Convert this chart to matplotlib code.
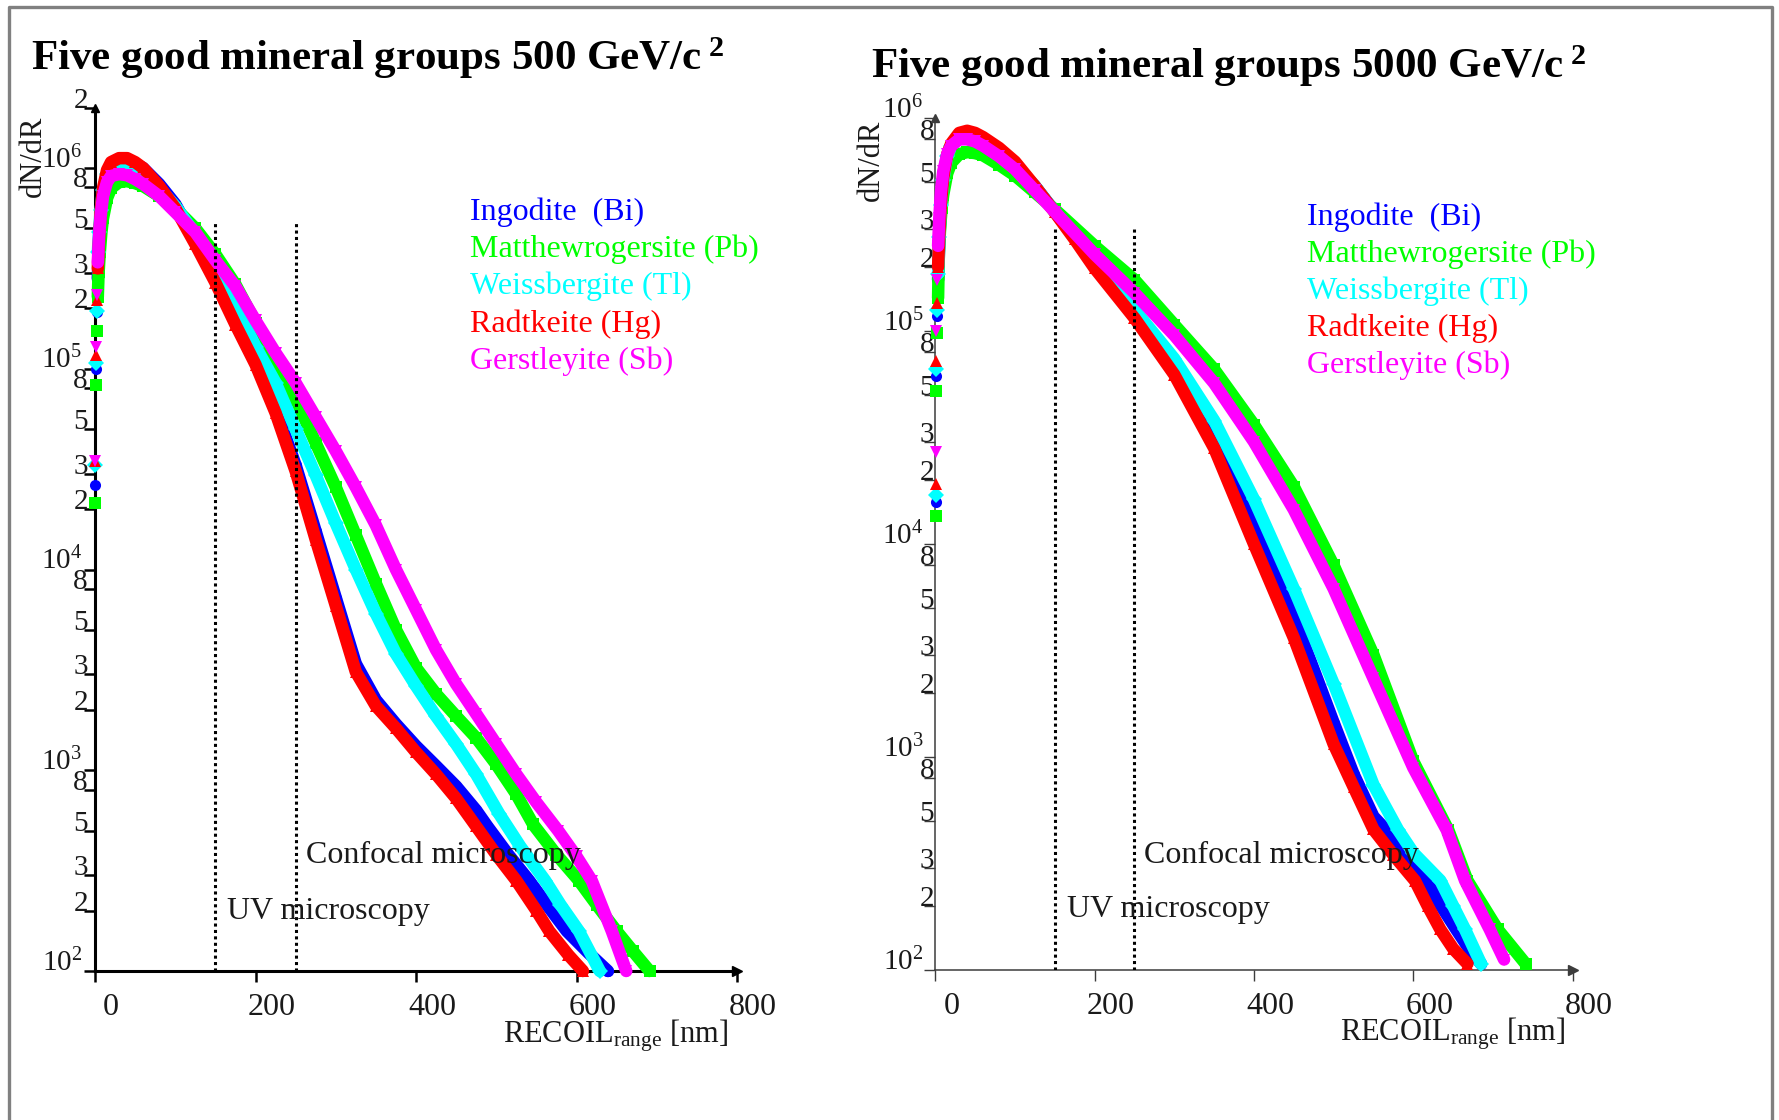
import matplotlib
matplotlib.use("Agg")
import matplotlib.pyplot as plt
from matplotlib.lines import Line2D
from matplotlib.ticker import NullLocator
from matplotlib.transforms import blended_transform_factory, ScaledTranslation

plt.rcParams['font.family'] = ['Liberation Serif', 'DejaVu Serif']
plt.rcParams['mathtext.fontset'] = 'custom'
plt.rcParams['mathtext.rm'] = 'Liberation Serif'
plt.rcParams['mathtext.it'] = 'Liberation Serif:italic'
plt.rcParams['mathtext.bf'] = 'Liberation Serif:bold'

# ---------------------------------------------------------------- data
MINERALS = ["Ingodite  (Bi)", "Matthewrogersite (Pb)", "Weissbergite (Tl)",
            "Radtkeite (Hg)", "Gerstleyite (Sb)"]
COLORS = ["#0000ff", "#00ff00", "#00ffff", "#ff0000", "#ff00ff"]
MARKERS = ["o", "s", "D", "^", "v"]
WIMP_MASSES = ["500", "5000"]
DETECTION_LIMITS = [150, 250]          # nm: UV / confocal microscopy
X_TICKS = [0, 200, 400, 600, 800]

# WIMP mass 500 GeV/c^2 : recoil range [nm] and dN/dR
R500_BI = [0.5, 1.5, 2.5, 3.5, 5, 7, 10, 15, 20, 30, 40, 50, 60, 80, 100, 125, 150, 175, 200,
           225, 250, 275, 300, 325, 350, 375, 400, 425, 450, 475, 489, 515, 541, 565, 588, 615, 639]
N500_BI = [2.63e4, 1.0e5, 1.91e5, 2.82e5, 4.17e5, 5.75e5, 7.59e5, 9.33e5, 1.05e6, 1.10e6, 1.10e6,
           1.05e6, 1.0e6, 8.32e5, 6.61e5, 4.37e5, 2.75e5, 1.74e5, 1.10e5, 6.31e4, 3.31e4, 1.55e4,
           7.24e3, 3.39e3, 2.24e3, 1.70e3, 1.32e3, 1.05e3, 832, 631, 525, 380, 282, 209, 158, 123, 100]

R500_PB = [0.5, 1.5, 2.5, 3.5, 4.5, 6, 8, 10, 15, 20, 30, 40, 50, 60, 80, 100, 125, 150, 175, 200,
           225, 250, 275, 300, 325, 350, 375, 400, 425, 450, 475, 500, 525, 546, 575, 603, 625, 650,
           670, 691]
N500_PB = [2.14e4, 8.32e4, 1.55e5, 2.29e5, 3.02e5, 3.80e5, 4.79e5, 5.62e5, 7.08e5, 7.94e5, 8.51e5,
           8.6e5, 8.4e5, 8.13e5, 7.24e5, 6.31e5, 5.01e5, 3.72e5, 2.63e5, 1.70e5, 1.10e5, 7.08e4,
           4.27e4, 2.57e4, 1.48e4, 8.51e3, 5.01e3, 3.24e3, 2.40e3, 1.86e3, 1.45e3, 1.07e3, 759, 537,
           380, 282, 214, 158, 126, 100]

R500_TL = [0.5, 1.5, 2.5, 3.5, 5, 7, 10, 15, 20, 30, 40, 50, 60, 80, 100, 125, 150, 175, 200,
           225, 250, 275, 300, 325, 350, 375, 400, 425, 450, 475, 504, 530, 561, 580, 603, 629]
N500_TL = [3.31e4, 1.07e5, 1.95e5, 3.80e5, 4.79e5, 6.17e5, 7.76e5, 9.33e5, 1.0e6, 1.05e6, 1.05e6,
           1.0e6, 9.33e5, 7.94e5, 6.46e5, 4.68e5, 3.09e5, 2.09e5, 1.29e5, 8.51e4, 5.01e4, 2.95e4,
           1.70e4, 1.0e4, 6.03e3, 3.80e3, 2.63e3, 1.86e3, 1.35e3, 955, 603, 417, 282, 214, 158, 100]

R500_HG = [0.5, 1.5, 2.5, 3.5, 5, 7, 10, 15, 20, 30, 40, 50, 60, 80, 100, 125, 150, 175, 200,
           225, 250, 275, 300, 325, 350, 375, 400, 425, 450, 475, 500, 525, 550, 566, 590, 608]
N500_HG = [3.47e4, 1.17e5, 2.19e5, 3.16e5, 4.37e5, 6.03e5, 7.94e5, 9.77e5, 1.07e6, 1.12e6, 1.12e6,
           1.07e6, 1.0e6, 8.13e5, 6.31e5, 4.17e5, 2.69e5, 1.66e5, 1.05e5, 6.03e4, 3.09e4, 1.41e4,
           6.61e3, 3.09e3, 2.09e3, 1.62e3, 1.23e3, 955, 724, 525, 380, 282, 200, 158, 120, 100]

R500_SB = [0.5, 1.5, 2.5, 3.5, 5, 7, 10, 15, 20, 30, 40, 50, 60, 80, 100, 125, 150, 175, 200,
           225, 250, 275, 300, 325, 350, 375, 400, 425, 450, 475, 500, 525, 550, 577, 600, 619, 644, 662]
N500_SB = [3.47e4, 1.29e5, 2.34e5, 3.39e5, 4.57e5, 5.75e5, 7.24e5, 8.51e5, 9.12e5, 9.33e5, 9.2e5,
           8.8e5, 8.32e5, 7.24e5, 6.03e5, 4.79e5, 3.47e5, 2.57e5, 1.74e5, 1.20e5, 8.51e4, 5.75e4,
           3.89e4, 2.57e4, 1.66e4, 1.0e4, 6.31e3, 3.98e3, 2.69e3, 1.91e3, 1.35e3, 955, 692, 501,
           372, 282, 158, 100]

# WIMP mass 5000 GeV/c^2
R5000_BI = [0.5, 1.5, 2.5, 3.5, 5, 7, 10, 15, 20, 30, 40, 50, 60, 80, 100, 125, 150, 175, 200,
            250, 300, 350, 400, 450, 500, 525, 550, 566, 585, 600, 617, 635, 654, 670, 685]
N5000_BI = [1.58e4, 6.17e4, 1.17e5, 1.74e5, 2.63e5, 3.80e5, 5.01e5, 6.46e5, 7.41e5, 8.13e5, 8.32e5,
            8.13e5, 7.76e5, 6.92e5, 6.03e5, 4.79e5, 3.63e5, 2.75e5, 2.04e5, 1.17e5, 6.61e4, 3.16e4,
            1.29e4, 4.57e3, 1.45e3, 832, 525, 454, 355, 302, 263, 200, 155, 126, 107]

R5000_PB = [0.5, 1.5, 2.5, 3.5, 4.5, 6, 8, 10, 15, 20, 30, 40, 50, 60, 80, 100, 125, 150, 200,
            250, 300, 350, 400, 450, 500, 550, 600, 644, 668, 706, 741]
N5000_PB = [1.35e4, 5.25e4, 9.77e4, 1.43e5, 2.34e5, 3.02e5, 3.80e5, 4.37e5, 5.50e5, 6.17e5, 6.76e5,
            6.92e5, 6.84e5, 6.68e5, 6.03e5, 5.37e5, 4.47e5, 3.72e5, 2.51e5, 1.74e5, 1.07e5, 6.61e4,
            3.63e4, 1.86e4, 7.94e3, 3.02e3, 955, 454, 263, 155, 107]

R5000_TL = [0.5, 1.5, 2.5, 3.5, 5, 7, 10, 15, 20, 30, 40, 50, 60, 80, 100, 125, 150, 175, 200,
            250, 300, 350, 400, 450, 500, 550, 581, 600, 634, 650, 665, 685]
N5000_TL = [1.70e4, 6.61e4, 1.26e5, 1.86e5, 2.75e5, 3.89e5, 5.13e5, 6.61e5, 7.41e5, 8.13e5, 8.32e5,
            8.13e5, 7.76e5, 6.92e5, 6.03e5, 4.79e5, 3.63e5, 2.82e5, 2.14e5, 1.26e5, 7.41e4, 3.80e4,
            1.62e4, 6.17e3, 2.21e3, 741, 454, 355, 263, 200, 155, 107]

R5000_HG = [0.5, 1.5, 2.5, 3.5, 5, 7, 10, 15, 20, 30, 40, 50, 60, 80, 100, 125, 150, 175, 200,
            250, 300, 350, 400, 450, 500, 525, 550, 575, 602, 618, 634, 650, 668]
N5000_HG = [1.91e4, 7.24e4, 1.35e5, 2.0e5, 2.82e5, 3.98e5, 5.25e5, 6.76e5, 7.59e5, 8.51e5, 8.71e5,
            8.51e5, 8.13e5, 7.24e5, 6.24e5, 4.79e5, 3.61e5, 2.69e5, 1.97e5, 1.15e5, 6.24e4, 2.82e4,
            1.0e4, 3.63e3, 1.15e3, 724, 457, 347, 263, 200, 155, 126, 107]

R5000_SB = [0.5, 1.5, 2.5, 3.5, 5, 7, 10, 15, 20, 30, 40, 50, 60, 80, 100, 125, 150, 200, 250,
            300, 350, 400, 450, 500, 550, 600, 642, 665, 696, 714]
N5000_SB = [2.69e4, 1.0e5, 1.74e5, 2.51e5, 3.39e5, 4.47e5, 5.62e5, 6.76e5, 7.41e5, 7.94e5, 7.94e5,
            7.76e5, 7.41e5, 6.61e5, 5.75e5, 4.57e5, 3.63e5, 2.29e5, 1.51e5, 9.55e4, 5.69e4, 3.02e4,
            1.45e4, 6.17e3, 2.34e3, 891, 454, 263, 155, 112]

SPECTRA = {
    "500": [(R500_BI, N500_BI), (R500_PB, N500_PB), (R500_TL, N500_TL),
            (R500_HG, N500_HG), (R500_SB, N500_SB)],
    "5000": [(R5000_BI, N5000_BI), (R5000_PB, N5000_PB), (R5000_TL, N5000_TL),
             (R5000_HG, N5000_HG), (R5000_SB, N5000_SB)],
}

# ---------------------------------------------------------------- layout
W, H = 1779, 1120
DPI = 100
fig = plt.figure(figsize=(W / DPI, H / DPI), dpi=DPI)
fig.patch.set_facecolor("white")


def fx(px):
    return px / W


def fy(py):
    return 1 - py / H


def off(dx, dy):
    return ScaledTranslation(dx / DPI, -dy / DPI, fig.dpi_scale_trans)


PANELS = {
    "500": dict(rect=(95, 107.6, 737, 971), ytop=2e6, axis_color="black", spine_lw=2.2,
                tick_w=1.8, dig_dx=-7, maj_dx=-13, vline_top=5.4e5,
                title_xy=(31, 70), ylabel_xy=(33, 156), xlabel_xy=(503, 1043),
                legend_xy=(470, 220), confocal_xy=(263, 345), uv_xy=(165, 181)),
    "5000": dict(rect=(935.3, 118, 1572.6, 970), ytop=1e6, axis_color="#3c3c3c", spine_lw=1.1,
                 tick_w=1.0, dig_dx=-1, maj_dx=-12, vline_top=3.0e5,
                 title_xy=(871, 78), ylabel_xy=(871, 160), xlabel_xy=(1340, 1041),
                 legend_xy=(1307, 224.5), confocal_xy=(262, 318), uv_xy=(165, 178)),
}

FS = 23
TXT = "#1a1a1a"

for mass in WIMP_MASSES:
    p = PANELS[mass]
    x0, y0, x1, y1 = p["rect"]
    ax = fig.add_axes([fx(x0), fy(y1), (x1 - x0) / W, (y1 - y0) / H])
    ax.set_yscale("log")
    ax.set_xlim(0, 800)
    ax.set_ylim(100, p["ytop"])
    ax.patch.set_alpha(0)
    for s in ("top", "right"):
        ax.spines[s].set_visible(False)
    for s in ("left", "bottom"):
        ax.spines[s].set_linewidth(p["spine_lw"])
        ax.spines[s].set_color(p["axis_color"])

    # ticks: marks from the library, labels placed by hand
    majors = [1e2, 1e3, 1e4, 1e5, 1e6]
    minors = [m * 10 ** e for e in range(2, 6) for m in (2, 3, 5, 8)]
    if p["ytop"] > 1e6:
        minors.append(2e6)
    ax.set_xticks(X_TICKS)
    ax.set_xticklabels([])
    ax.set_yticks(majors + minors)
    ax.set_yticklabels([])
    ax.yaxis.set_minor_locator(NullLocator())
    ax.tick_params(direction="out", length=8, width=p["tick_w"], color=p["axis_color"])

    xt = blended_transform_factory(ax.transData, ax.transAxes) + off(16, 44)
    for v in X_TICKS:
        ax.text(v, 0, str(v), transform=xt, ha="center", va="baseline", fontsize=FS,
                color=TXT)
    yt_maj = blended_transform_factory(ax.transAxes, ax.transData) + off(p["maj_dx"], 0)
    yt_min = blended_transform_factory(ax.transAxes, ax.transData) + off(p["dig_dx"], 0)
    for v in majors:
        if v <= p["ytop"] * 1.01:
            e = len(str(int(v))) - 1
            ax.text(0, v, r"$10^{%d}$" % e, transform=yt_maj, ha="right", va="baseline",
                    fontsize=FS - 2, color=TXT)
    for v in minors:
        digit = str(int(round(v / 10 ** (len(str(int(round(v)))) - 1))))
        ax.text(0, v, digit, transform=yt_min, ha="right", va="baseline",
                fontsize=FS - 2, color=TXT)

    # arrow heads at the ends of both axes
    ax.plot([800], [100], marker=">", ms=7, color=p["axis_color"], clip_on=False, zorder=4)
    ax.plot([0], [p["ytop"]], marker="^", ms=6, color=p["axis_color"], clip_on=False, zorder=4)

    # spectra
    for (r, n), c, m in zip(SPECTRA[mass], COLORS, MARKERS):
        ax.plot(r[3:], n[3:], color=c, lw=9, solid_joinstyle="round",
                solid_capstyle="round", clip_on=False, zorder=3)
        ax.plot(r, n, ls="none", marker=m, ms=8, mfc=c, mec=c, mew=0,
                clip_on=False, zorder=3)

    # microscopy resolution limits
    for xl in DETECTION_LIMITS:
        ax.plot([xl, xl], [100, p["vline_top"]], color="black", lw=2.2,
                ls=(0, (1, 1.1)), zorder=5)
    ax.text(*p["confocal_xy"], "Confocal microscopy", fontsize=FS, color=TXT,
            ha="left", va="baseline", zorder=6)
    ax.text(*p["uv_xy"], "UV microscopy", fontsize=FS, color=TXT,
            ha="left", va="baseline", zorder=6)

    # titles and axis labels
    tx, ty = p["title_xy"]
    fig.text(fx(tx), fy(ty), "Five good mineral groups %s GeV/c$^{\\ \\mathbf{2}}$" % mass,
             fontsize=31, fontweight="bold", ha="left", va="baseline")
    lx, ly = p["ylabel_xy"]
    fig.text(fx(lx), fy(ly), "dN/dR", rotation=90, fontsize=FS - 1, ha="center",
             va="center", color=TXT)
    bx, by = p["xlabel_xy"]
    fig.text(fx(bx), fy(by), r"RECOIL$_{\mathrm{range}}$ [nm]", fontsize=FS - 1,
             ha="left", va="baseline", color=TXT)

    # coloured mineral labels
    gx, gy = p["legend_xy"]
    for i, (name, c) in enumerate(zip(MINERALS, COLORS)):
        fig.text(fx(gx), fy(gy + 37.2 * i), name, color=c, fontsize=FS,
                 ha="left", va="baseline")

# page frame
fig.add_artist(Line2D([fx(9), fx(9), fx(1771.5), fx(1771.5)],
                      [fy(1130), fy(7), fy(7), fy(1130)],
                      transform=fig.transFigure, color="#808080", lw=2.4, clip_on=False))

fig.savefig("out.png", dpi=DPI)
